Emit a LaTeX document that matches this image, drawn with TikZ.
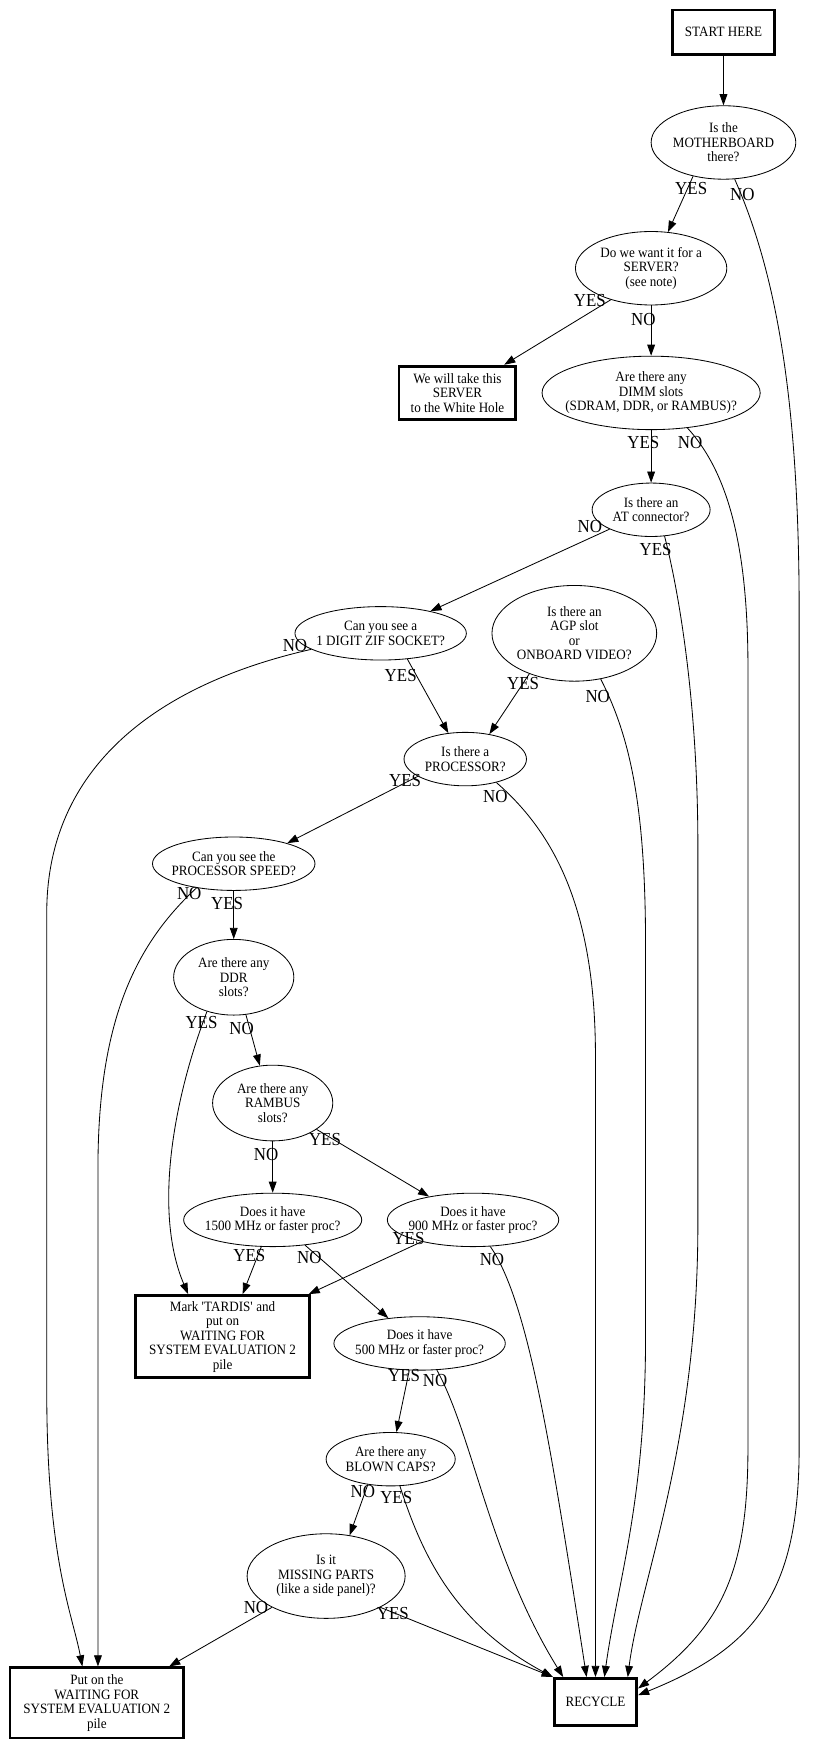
\documentclass[tikz,border=0pt]{standalone}
\usepackage{fontspec}
\setmainfont{Liberation Serif}[FakeStretch=0.92]
\usetikzlibrary{shapes.geometric,arrows.meta}
\newcommand\nfont{\fontsize{12.8}{13}\selectfont}
\newcommand\lfont{\fontsize{16.5}{17}\selectfont}
\begin{document}
\begin{tikzpicture}[x=1pt,y=-1pt,
  q/.style={ellipse, draw, line width=0.75pt, inner xsep=-20pt, inner ysep=0pt, align=center, font=\nfont},
  bx/.style={rectangle, draw, line width=2.6pt, inner sep=0pt, align=center, font=\nfont},
  edg/.style={draw, line width=0.75pt, -{Triangle[length=10pt,width=7pt]}},
  lbl/.style={font=\lfont, inner sep=0pt}]
\useasboundingbox (0,0) rectangle (735,1566);

% nodes
\node[bx, minimum width=91pt, minimum height=40pt] (start) at (650,29) {START HERE};
\node[q, minimum width=130pt, minimum height=66pt] (q1) at (650,128) {Is the\\MOTHERBOARD\\there?};
\node[q, minimum width=136pt, minimum height=66pt] (q2) at (585,241) {Do we want it for a\\SERVER?\\(see note)};
\node[bx, minimum width=105pt, minimum height=48pt] (wh) at (411,353) {We will take this\\SERVER\\to the White Hole};
\node[q, minimum width=196pt, minimum height=66pt] (q3) at (585,353) {Are there any\\DIMM slots\\(SDRAM, DDR, or RAMBUS)?};
\node[q, minimum width=106pt, minimum height=48pt] (q4) at (585,458) {Is there an\\AT connector?};
\node[q, minimum width=154pt, minimum height=48pt] (q5) at (342,569) {Can you see a\\1 DIGIT ZIF SOCKET?};
\node[q, minimum width=148pt, minimum height=86pt] (q6) at (516,569) {Is there an\\AGP slot\\or\\ONBOARD VIDEO?};
\node[q, minimum width=110pt, minimum height=48pt] (q7) at (418,682) {Is there a\\PROCESSOR?};
\node[q, minimum width=146pt, minimum height=48pt] (q8) at (210,776) {Can you see the\\PROCESSOR SPEED?};
\node[q, minimum width=108pt, minimum height=68pt] (q9) at (210,878) {Are there any\\DDR\\slots?};
\node[q, minimum width=108pt, minimum height=68pt] (q10) at (245,991) {Are there any\\RAMBUS\\slots?};
\node[q, minimum width=160pt, minimum height=48pt] (q11) at (245,1096) {Does it have\\1500 MHz or faster proc?};
\node[q, minimum width=154pt, minimum height=48pt] (q12) at (425,1096) {Does it have\\900 MHz or faster proc?};
\node[bx, minimum width=156pt, minimum height=74pt] (tardis) at (200,1201) {Mark \textquotesingle TARDIS\textquotesingle{} and\\put on\\WAITING FOR\\SYSTEM EVALUATION 2\\pile};
\node[q, minimum width=154pt, minimum height=48pt] (q13) at (377,1207) {Does it have\\500 MHz or faster proc?};
\node[q, minimum width=116pt, minimum height=48pt] (q14) at (351,1311) {Are there any\\BLOWN CAPS?};
\node[q, minimum width=142pt, minimum height=76pt] (q15) at (293,1416) {Is it\\MISSING PARTS\\(like a side panel)?};
\node[bx, minimum width=156pt, minimum height=63pt] (wait) at (87,1530) {Put on the\\WAITING FOR\\SYSTEM EVALUATION 2\\pile};
\node[bx, minimum width=74pt, minimum height=42pt] (recycle) at (535,1529) {RECYCLE};

% edges
\draw[edg] (start) -- (q1);
\draw[edg] (q1.228) -- (q2.65);
\draw[edg] (q1.287) .. controls (695,240) and (718,350) .. (718,550) -- (718,1300) .. controls (718,1430) and (680,1480) .. ([yshift=6pt]recycle.east);
\draw[edg] (q2.218) -- ([xshift=42pt]wh.north);
\draw[edg] (q2) -- (q3);
\draw[edg] (q3) -- (q4);
\draw[edg] (q3.316) .. controls (650,420) and (672,480) .. (672,600) -- (672,1300) .. controls (672,1410) and (650,1460) .. ([yshift=12pt]recycle.east);
\draw[edg] (q4.205) -- (q5.24);
\draw[edg] (q4.297) .. controls (612,540) and (627,640) .. (627,760) -- (627,1100) .. controls (627,1300) and (575,1420) .. ([xshift=29pt]recycle.north);
\draw[edg] (q5.193) .. controls (140,615) and (42,690) .. (42,820) -- (42,1250) .. controls (42,1400) and (65,1450) .. ([xshift=-13pt]wait.north);
\draw[edg] (q5.316) -- (q7.123);
\draw[edg] (q6.222) -- (q7.46);
\draw[edg] (q6.300) .. controls (565,660) and (580,720) .. (580,850) -- (580,1200) .. controls (580,1350) and (555,1420) .. ([xshift=8pt]recycle.north);
\draw[edg] (q7.200) -- (q8.21);
\draw[edg] (q7.323) .. controls (500,750) and (535,820) .. (535,950) -- (recycle.north);
\draw[edg] (q8.213) .. controls (120,850) and (88,920) .. (88,1050) -- ([xshift=1pt]wait.north);
\draw[edg] (q8) -- (q9);
\draw[edg] (q9.232) .. controls (155,990) and (138,1090) .. ([xshift=-31pt]tardis.north);
\draw[edg] (q9.288) -- (q10.109);
\draw[edg] (q10) -- (q11);
\draw[edg] (q10.329) -- (q12.152);
\draw[edg] (q11.247) -- ([xshift=18pt]tardis.north);
\draw[edg] (q11.322) -- (q13.141);
\draw[edg] (q12.203) -- ([xshift=-2pt]tardis.north east);
\draw[edg] (q12.303) .. controls (475,1170) and (495,1300) .. ([xshift=-8pt]recycle.north);
\draw[edg] (q13.249) -- (q14.78);
\draw[edg] (q13.303) .. controls (425,1290) and (440,1400) .. ([xshift=-29pt]recycle.north);
\draw[edg] (q14.228) -- (q15.60);
\draw[edg] (q14.289) .. controls (380,1400) and (410,1460) .. (recycle.north west);
\draw[edg] (q15.210) -- ([xshift=65pt]wait.north);
\draw[edg] (q15.330) -- (recycle.north west);

% labels
\node[lbl] (l1) at (621,169) {YES};
\node[lbl] (l2) at (667,175) {NO};
\node[lbl] (l3) at (530,270) {YES};
\node[lbl] (l4) at (578,287) {NO};
\node[lbl] (l5) at (578,398) {YES};
\node[lbl] (l6) at (620,398) {NO};
\node[lbl] (l7) at (530,473) {NO};
\node[lbl] (l8) at (589,494) {YES};
\node[lbl] (l9) at (265,580) {NO};
\node[lbl] (l10) at (360,607) {YES};
\node[lbl] (l11) at (470,614) {YES};
\node[lbl] (l12) at (537,626) {NO};
\node[lbl] (l13) at (364,701) {YES};
\node[lbl] (l14) at (445,716) {NO};
\node[lbl] (l15) at (170,803) {NO};
\node[lbl] (l16) at (204,812) {YES};
\node[lbl] (l17) at (181,919) {YES};
\node[lbl] (l18) at (217,924) {NO};
\node[lbl] (l19) at (239,1037) {NO};
\node[lbl] (l20) at (292,1024) {YES};
\node[lbl] (l21) at (224,1128) {YES};
\node[lbl] (l22) at (278,1130) {NO};
\node[lbl] (l23) at (367,1113) {YES};
\node[lbl] (l24) at (442,1132) {NO};
\node[lbl] (l25) at (363,1236) {YES};
\node[lbl] (l26) at (391,1240) {NO};
\node[lbl] (l27) at (326,1340) {NO};
\node[lbl] (l28) at (356,1345) {YES};
\node[lbl] (l29) at (230,1444) {NO};
\node[lbl] (l30) at (353,1450) {YES};
\end{tikzpicture}
\end{document}
